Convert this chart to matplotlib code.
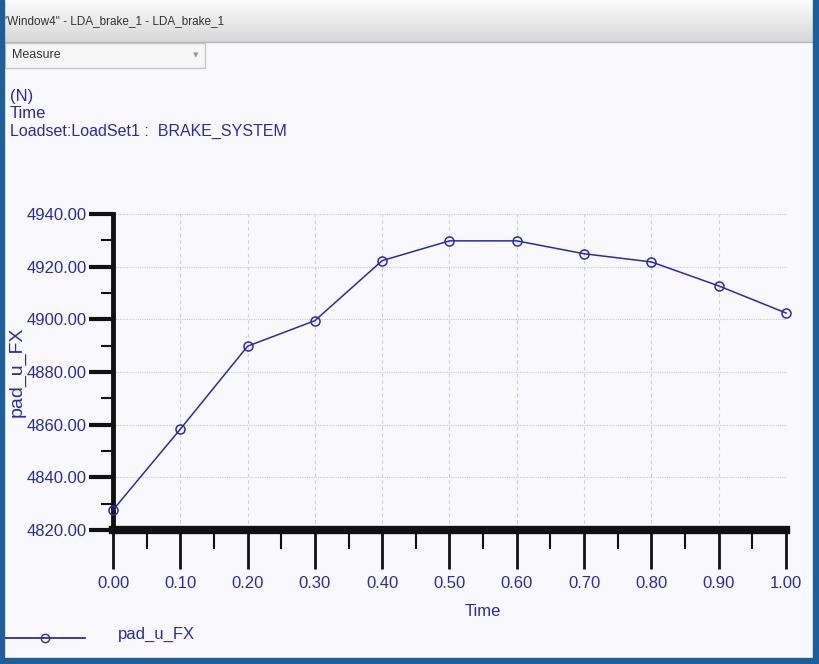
import numpy as np
import matplotlib.pyplot as plt
from matplotlib.patches import Rectangle
from matplotlib.ticker import MultipleLocator
from matplotlib.lines import Line2D
from matplotlib.colors import LinearSegmentedColormap

# data
time = [0.0, 0.1, 0.2, 0.3, 0.4, 0.5, 0.6, 0.7, 0.8, 0.9, 1.0]
pad_u_fx = [4827.6, 4858.3, 4889.8, 4899.5, 4922.3, 4929.8, 4929.8, 4924.9, 4921.8, 4912.7, 4902.4]
x_ticks = [0.0, 0.1, 0.2, 0.3, 0.4, 0.5, 0.6, 0.7, 0.8, 0.9, 1.0]
y_ticks = [4820, 4840, 4860, 4880, 4900, 4920, 4940]

blue = '#2b2ba8'
frame = '#1f5f99'
plt.rcParams['font.family'] = ['Liberation Sans', 'DejaVu Sans']

W, H = 819, 664
fig = plt.figure(figsize=(W / 100, H / 100), dpi=100, facecolor='#f9f9fd')

def px(x, y):
    return x / W, 1 - y / H

# window title bar with a soft gradient
grey = LinearSegmentedColormap.from_list('bar', ['#d8d8d8', '#fbfbfb'])
grad = np.linspace(0, 1, 64).reshape(-1, 1)
bar = fig.add_axes([0, 1 - 42 / H, 1, 42 / H])
bar.imshow(grad, aspect='auto', cmap=grey, origin='lower', extent=[0, 1, 0, 1])
bar.axis('off')
fig.lines.append(Line2D([0, 1], [1 - 42 / H] * 2, transform=fig.transFigure,
                        color='#b8b8b8', lw=1))
fig.text(*px(3, 21), '"Window4" - LDA_brake_1 - LDA_brake_1', fontsize=8.5,
         color='#333333', va='center')

# dropdown box
fig.patches.append(Rectangle(px(5, 68), 200 / W, 25 / H, transform=fig.transFigure,
                             facecolor='#f6f6f6', edgecolor='#c8c8c8', lw=1))
fig.text(*px(12, 55), 'Measure', fontsize=9, color='#333333', va='center')
fig.text(*px(196, 55), '\u25be', fontsize=8, color='#999999', va='center', ha='center',
         family=['DejaVu Sans'])

# header texts
fig.text(*px(10, 97), '(N)', fontsize=12, color=blue, va='center')
fig.text(*px(10, 114), 'Time', fontsize=12, color=blue, va='center')
fig.text(*px(10, 131), 'Loadset:LoadSet1 :  BRAKE_SYSTEM', fontsize=11.5, color=blue, va='center')

# plot area
l, t, r, b = 113, 214, 786, 530
ax = fig.add_axes([l / W, 1 - b / H, (r - l) / W, (b - t) / H])
ax.set_facecolor('#f9f9fd')
ax.plot(time, pad_u_fx, color=blue, lw=1.1, marker='o', ms=6.5, mfc='none', mec=blue,
        mew=1.1, clip_on=False, zorder=5)
ax.set_xlim(0, 1)
ax.set_ylim(4820, 4940)
ax.set_xticks(x_ticks)
ax.set_xticklabels(['%.2f' % v for v in x_ticks])
ax.set_yticks(y_ticks)
ax.set_yticklabels(['%.2f' % v for v in y_ticks])
ax.xaxis.set_minor_locator(MultipleLocator(0.05))
ax.yaxis.set_minor_locator(MultipleLocator(10))
ax.tick_params(axis='x', which='major', length=28, width=2, color='#111111',
               labelsize=12, labelcolor=blue, pad=5)
ax.tick_params(axis='x', which='minor', length=14, width=1.5, color='#111111')
ax.tick_params(axis='y', which='major', length=17, width=3, color='#111111',
               labelsize=12, labelcolor=blue, pad=2)
ax.tick_params(axis='y', which='minor', length=9, width=1.5, color='#111111')
ax.grid(True, which='major', axis='y', color='#c8c8d0', lw=0.8, ls=(0, (1, 1)))
ax.grid(True, which='major', axis='x', color='#d0d0d8', lw=0.8, ls=(0, (3, 3)))
for s in ['top', 'right']:
    ax.spines[s].set_visible(False)
ax.spines['left'].set_linewidth(3.5)
ax.spines['bottom'].set_linewidth(6)
ax.spines['left'].set_color('#111111')
ax.spines['bottom'].set_color('#111111')
ax.set_xlabel('Time', fontsize=12, color=blue)
ax.set_ylabel('pad_u_FX', fontsize=14, color=blue)
ax.yaxis.set_label_coords(-0.13, 0.5)
ax.xaxis.set_label_coords(0.55, -0.235)

# legend drawn at the bottom
fig.lines.append(Line2D([5 / W, 85 / W], [1 - 638 / H] * 2, transform=fig.transFigure,
                        color=blue, lw=1.3))
fig.lines.append(Line2D([45 / W], [1 - 638 / H], transform=fig.transFigure, color=blue,
                        marker='o', ms=6, mfc='none', mec=blue))
fig.text(*px(118, 634), 'pad_u_FX', fontsize=12, color=blue, va='center')

# blue window frame
for x, y, w, h in [(0, 0, 4, H), (W - 6, 0, 6, H), (0, H - 6, W, 6)]:
    fig.patches.append(Rectangle((x / W, 1 - (y + h) / H), w / W, h / H,
                                 transform=fig.transFigure, color=frame, zorder=10))

fig.savefig('out.png', dpi=100, facecolor=fig.get_facecolor())
